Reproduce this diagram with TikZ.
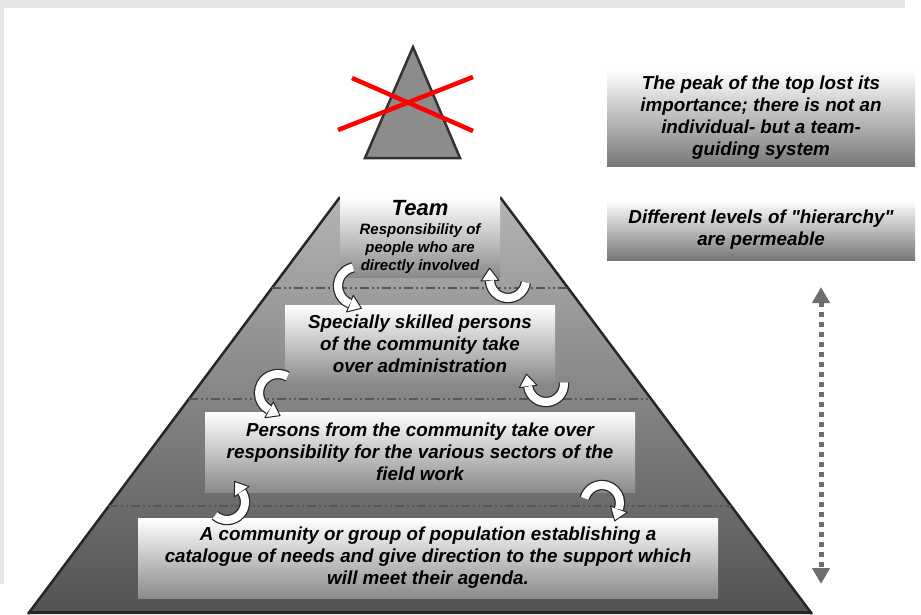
\documentclass[tikz,border=0pt]{standalone}
\usepackage{fontspec}
\setmainfont{Liberation Sans}[Ligatures=TeXOff]
\usetikzlibrary{calc,arrows.meta}
\definecolor{pyrtop}{HTML}{B4B4B4}
\definecolor{pyrbot}{HTML}{525252}
\definecolor{boxbot}{HTML}{8A8A8A}
\definecolor{notebot}{HTML}{777777}
\definecolor{framegray}{HTML}{E6E6E6}
\definecolor{dotgray}{HTML}{6E6E6E}
\definecolor{edgegray}{HTML}{262626}
\definecolor{peakgray}{HTML}{8C8C8C}
\definecolor{peakedge}{HTML}{333333}
\definecolor{levelline}{HTML}{575757}
\newcommand{\cvarrow}[6]{%
  \draw[line width=10.5pt, black!85] (#1,#2) ++(#4:#3) arc[start angle=#4, end angle=#5, radius=#3];
  \coordinate (cvP) at ($(#1,#2)+(#5:#3)$);
  \filldraw[fill=white, draw=black!85, line width=1pt, line join=round]
    ($(cvP)+({#6+90}:9)$) -- ($(cvP)+(#6:12.5)$) -- ($(cvP)+({#6-90}:9)$) -- cycle;
  \draw[line width=8pt, white] (#1,#2) ++(#4:#3) arc[start angle=#4, end angle=#5, radius=#3];
}
\begin{document}
\begin{tikzpicture}[x=1pt,y=-1pt,
  mainfont/.style={font=\fontsize{18.8}{22}\selectfont\bfseries\itshape},
  tierbox/.style={shade, top color=white, bottom color=boxbot, inner sep=0pt, align=center, mainfont},
  notebox/.style={shade, top color=white, bottom color=notebot, inner sep=0pt, align=center, mainfont},
  level/.style={levelline, line width=1.8pt, dash pattern=on 9pt off 3pt on 2pt off 3pt on 2pt off 3pt},
  pyredge/.style={edgegray, line width=2.5pt},
  dotarrow/.style={dotgray, line width=5pt, dash pattern=on 5pt off 5pt,
    {Triangle[width=17pt,length=16pt]}-{Triangle[width=17pt,length=16pt]}},
  cross/.style={red, line width=4.5pt}
]
\useasboundingbox (0,0) rectangle (921,614);
\fill[white] (0,0) rectangle (921,614);
\fill[framegray] (0,0) rectangle (905,8);
\fill[framegray] (0,0) rectangle (4,584);

% pyramid
\coordinate (tl) at (340,197);
\coordinate (tr) at (500,197);
\coordinate (bl) at (28,614);
\coordinate (br) at (812,614);
\shade[top color=pyrtop, bottom color=pyrbot] (tl) -- (tr) -- (br) -- (bl) -- cycle;
\draw[pyredge] (tl) -- (bl);
\draw[pyredge] (tr) -- (br);
\draw[edgegray, line width=3pt] (28,612.5) -- (812,612.5);

% level lines
\draw[level] ($(tl)!0.218!(bl)$) -- ($(tr)!0.218!(br)$);
\draw[level] ($(tl)!0.484!(bl)$) -- ($(tr)!0.484!(br)$);
\draw[level] ($(tl)!0.741!(bl)$) -- ($(tr)!0.741!(br)$);

% tier boxes
\node[tierbox, minimum width=160pt, minimum height=80pt] (team) at (420,237)
  {{\fontsize{22}{24}\selectfont Team}\\[-3pt]
   {\fontsize{15}{17}\selectfont Responsibility of}\\[-4pt]
   {\fontsize{15}{17}\selectfont people who are}\\[-4pt]
   {\fontsize{15}{17}\selectfont directly involved}};
\node[tierbox, minimum width=270pt, minimum height=78pt] (admin) at (420,344)
  {Specially skilled persons\\of the community take\\over administration};
\node[tierbox, minimum width=430pt, minimum height=80pt] (field) at (420,452)
  {Persons from the community take over\\responsibility for the various sectors of the\\field work};
\node[tierbox, minimum width=580pt, minimum height=80pt] (base) at (428,558)
  {A community or group of population establishing a\\catalogue of needs and give direction to the support which\\will meet their agenda.};

% curved arrows between tiers
\cvarrow{357}{286}{19}{258}{112}{22}
\cvarrow{508}{280}{18}{8}{178}{268}
\cvarrow{278}{393}{19}{300}{118}{28}
\cvarrow{546}{384}{18}{-5}{172}{262}
\cvarrow{227}{502}{18}{132}{-35}{-125}
\cvarrow{602}{503}{18}{195}{380}{470}

% crossed-out peak
\filldraw[fill=peakgray, draw=peakedge, line width=2.5pt] (413,47) -- (460,158) -- (365,158) -- cycle;
\coordinate (xa1) at (352,78);
\coordinate (xa2) at (473,131);
\coordinate (xb1) at (338,130);
\coordinate (xb2) at (473,77);
\draw[cross] (xa1) -- (xa2);
\draw[cross] (xb1) -- (xb2);

% notes
\node[notebox, minimum width=308pt, minimum height=97pt] (notepeak) at (761,118)
  {The peak of the top lost its\\importance; there is not an\\individual- but a team-\\guiding system};
\node[notebox, minimum width=308pt, minimum height=60pt] (notelevels) at (761,230)
  {Different levels of "hierarchy"\\are permeable};

% dotted double arrow
\coordinate (dtop) at (821,287);
\coordinate (dbot) at (821,584);
\draw[dotarrow] (dtop) -- (dbot);
\end{tikzpicture}
\end{document}
